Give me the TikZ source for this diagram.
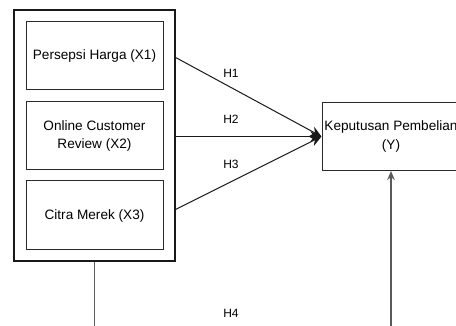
\documentclass[tikz,border=0pt]{standalone}
\usepackage{fontspec}
\setmainfont{Liberation Sans}
\usetikzlibrary{arrows.meta}
\definecolor{boxline}{HTML}{2A2A2A}
\definecolor{vline}{HTML}{5A5A5A}
\begin{document}
\begin{tikzpicture}[x=1pt,y=-1pt,
  varbox/.style={draw=boxline, line width=1pt, inner sep=0pt, align=center,
    font=\fontsize{13.6}{18.5}\selectfont, minimum width=137pt, minimum height=68pt},
  outerbox/.style={draw=black!90, line width=1.1pt, inner sep=0pt,
    minimum width=161pt, minimum height=251pt},
  hlabel/.style={font=\fontsize{12}{13}\selectfont, inner sep=0pt},
  arr/.style={draw=black!90, line width=1pt, -{Stealth[length=11pt,width=10pt]}},
  vconn/.style={draw=vline, line width=1.4pt},
  varr/.style={draw=vline, line width=1.4pt, -{Stealth[length=9pt,width=7.5pt]}}]
\useasboundingbox (0,0) rectangle (456,326);
\clip (0,0) rectangle (456,326);
\node[outerbox] (outer) at (94.5,135.5) {};
\node[varbox] (x1) at (94.5,56) {Persepsi Harga (X1)};
\node[varbox] (x2) at (94.5,136) {Online Customer\\Review (X2)};
\node[varbox, minimum height=69pt] (x3) at (94.5,215.5) {Citra Merek (X3)};
\node[varbox, minimum width=138pt] (y) at (391,136.5) {Keputusan Pembelian\\(Y)};
\path (outer.north east) ++(0,48) coordinate (s1);
\path (outer.north east) ++(0,200) coordinate (s3);
\coordinate (s2) at (outer.east |- y.west);
\draw[arr] (s1) -- (y.west);
\draw[arr] (s2) -- (y.west);
\draw[arr] (s3) -- (y.west);
\node[hlabel] (h1) at (231,73) {H1};
\node[hlabel] (h2) at (231,119) {H2};
\node[hlabel] (h3) at (231,164) {H3};
\node[hlabel] (h4) at (231,313) {H4};
\coordinate (low) at (outer.south |- 0,360);
\draw[vconn] (outer.south) -- (low);
\draw[varr] (low) -| (y.south);
\end{tikzpicture}
\end{document}
